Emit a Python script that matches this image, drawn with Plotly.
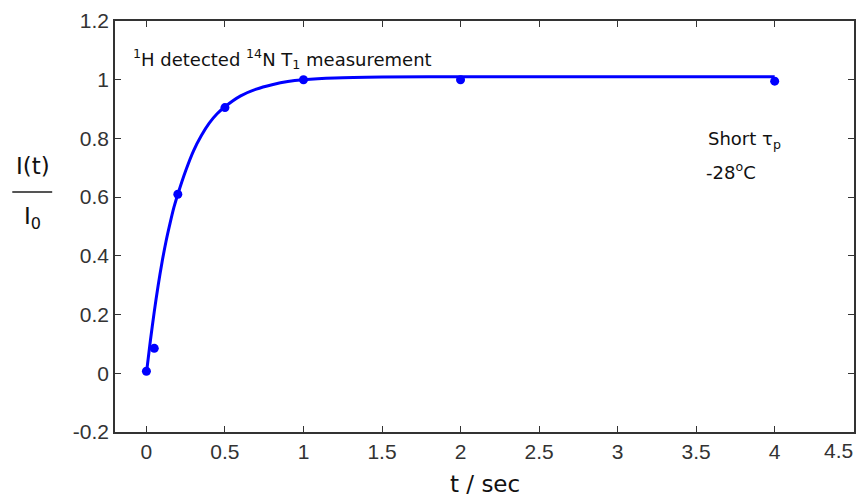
import plotly.graph_objects as go

# measured points
t_pts = [0.0, 0.05, 0.2, 0.5, 1.0, 2.0, 4.0]
i_pts = [0.007, 0.085, 0.61, 0.905, 1.0, 1.0, 0.995]

# fitted curve values
t_fit = [0.0, 0.025, 0.05, 0.075, 0.1, 0.125, 0.15, 0.175, 0.2, 0.25, 0.3, 0.35, 0.4, 0.45, 0.5,
         0.6, 0.7, 0.8, 0.9, 1.0, 1.2, 1.5, 2.0, 3.0, 4.0]
i_fit = [0.0, 0.11, 0.21, 0.30, 0.38, 0.45, 0.51, 0.565, 0.61, 0.69, 0.758, 0.81, 0.852, 0.884, 0.908,
         0.945, 0.968, 0.983, 0.994, 1.0, 1.006, 1.009, 1.01, 1.01, 1.01]

x_ticks = [0, 0.5, 1, 1.5, 2, 2.5, 3, 3.5, 4, 4.5]
y_ticks = [-0.2, 0, 0.2, 0.4, 0.6, 0.8, 1, 1.2]

blue = "#0000ff"
axis_col = "#333333"

fig = go.Figure()
fig.add_trace(go.Scatter(x=t_fit, y=i_fit, mode="lines",
                         line=dict(color=blue, width=3, shape="spline", smoothing=0.8),
                         showlegend=False, hoverinfo="skip"))
fig.add_trace(go.Scatter(x=t_pts, y=i_pts, mode="markers",
                         marker=dict(color=blue, size=9),
                         showlegend=False))

tick_font = dict(family="Liberation Sans, Arial", size=21, color="#333333")
axis_common = dict(showgrid=False, zeroline=False, showline=True, linecolor=axis_col,
                   linewidth=1.5, mirror="ticks", ticks="inside", ticklen=6,
                   tickcolor=axis_col, tickwidth=1.2, tickfont=tick_font)

x_text = [f"{v:g}" for v in x_ticks]
x_text[-1] = ""  # last label placed separately (shifted inward as in the reference)
fig.update_xaxes(range=[-0.2, 4.505], tickvals=x_ticks, ticktext=x_text, **axis_common)
fig.update_yaxes(range=[-0.2, 1.2], tickvals=y_ticks,
                 ticktext=[f"{v:g}" for v in y_ticks], **axis_common)
fig.add_annotation(xref="x", yref="paper", x=x_ticks[-1], y=0, xanchor="right", yanchor="top",
                   xshift=2, yshift=-5, text=f"{x_ticks[-1]:g}", showarrow=False, font=tick_font)

txt_font = dict(family="DejaVu Sans, Verdana", size=23, color="#111111")
fig.add_annotation(xref="paper", yref="paper", x=0.5, y=-0.09, yanchor="top",
                   text="t / sec", showarrow=False, font=txt_font)
# y-axis title as a fraction
fig.add_annotation(xref="paper", yref="paper", x=-0.111, y=0.646, xanchor="center",
                   text="I(t)", showarrow=False, font=txt_font)
fig.add_annotation(xref="paper", yref="paper", x=-0.111, y=0.52, xanchor="center",
                   text="I<sub>0</sub>", showarrow=False, font=txt_font)
fig.add_shape(type="line", xref="paper", yref="paper", x0=-0.139, x1=-0.085,
              y0=0.584, y1=0.584, line=dict(color="#555555", width=2))

ann_font = dict(family="DejaVu Sans, Verdana", size=18, color="#111111")
fig.add_annotation(xref="paper", yref="paper", x=0.022, y=0.945, xanchor="left",
                   text="<sup>1</sup>H detected <sup>14</sup>N T<sub>1</sub> measurement",
                   showarrow=False, font=ann_font)
fig.add_annotation(xref="paper", yref="paper", x=0.8, y=0.745, xanchor="left",
                   text="Short τ<sub>p</sub>", showarrow=False, font=ann_font, align="left")
fig.add_annotation(xref="paper", yref="paper", x=0.797, y=0.67, xanchor="left",
                   text="-28<sup>o</sup>C", showarrow=False, font=ann_font, align="left")

fig.update_layout(width=865, height=497, plot_bgcolor="white", paper_bgcolor="white",
                  margin=dict(l=115, r=9, t=19, b=65))
fig.write_html("out.html")
